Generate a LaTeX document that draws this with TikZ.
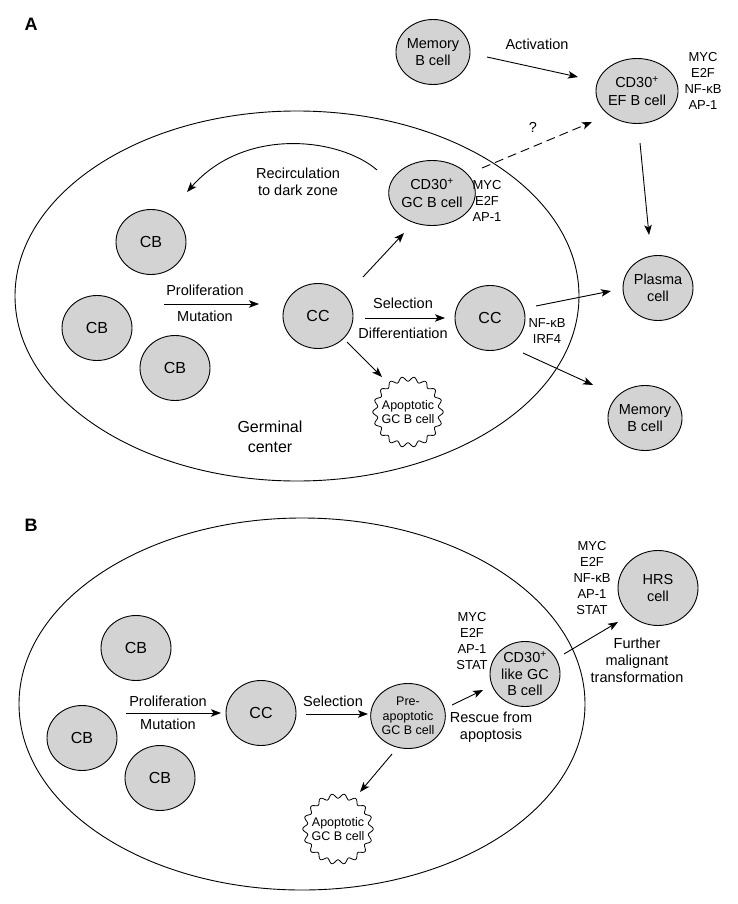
\documentclass[tikz,border=0pt]{standalone}
\usepackage{fontspec}
\setmainfont{Liberation Sans}
\usetikzlibrary{shapes.geometric,arrows.meta,calc}
\definecolor{cellgray}{RGB}{211,211,211}
\begin{document}
\begin{tikzpicture}[x=1pt,y=-1pt,
 cell/.style={ellipse, draw, line width=0.9pt, fill=cellgray, minimum width=70pt, minimum height=65pt, inner sep=0pt, align=center, font=\fontsize{14.5}{17.5}\selectfont},
 bigcell/.style={cell, font=\fontsize{16}{19}\selectfont},
 hrscell/.style={cell, minimum width=80pt, minimum height=75pt},
 txt/.style={align=center, inner sep=0pt, font=\fontsize{14.5}{17}\selectfont},
 gtxt/.style={align=center, inner sep=0pt, font=\fontsize{16}{20}\selectfont},
 genes/.style={align=center, inner sep=0pt, font=\fontsize{13}{16}\selectfont},
 apo/.style={circle, minimum size=68pt, inner sep=0pt, align=center, font=\fontsize{12.5}{14.5}\selectfont},
 smallcell/.style={cell, font=\fontsize{12.5}{14.5}\selectfont},
 wavy/.style={line width=0.8pt, fill=white},
 arr/.style={line width=0.9pt, -{Stealth[length=10pt,width=7.5pt,inset=2.5pt]}},
 dasharr/.style={arr, dash pattern=on 9pt off 5pt},
 zone/.style={ellipse, draw, line width=0.9pt, inner sep=0pt},
 panel/.style={font=\fontsize{18}{20}\selectfont\bfseries, inner sep=0pt}]
\useasboundingbox (0,0) rectangle (738,904);

% ---------------- Panel A ----------------
\node[panel] (labA) at (31,24) {A};
\node[zone, minimum width=564pt, minimum height=370pt] (gczA) at (297,296) {};

\node[cell] (memT) at (433,52) {Memory\\B cell};
\node[txt] (act) at (537,44) {Activation};
\node[cell] (ef) at (637,91) {CD30\textsuperscript{+}\\EF B cell};
\node[genes] (efg) at (703,81) {MYC\\E2F\\NF-κB\\AP-1};
\node[txt] (q) at (533,127) {?};
\node[cell] (gc) at (432,193) {CD30\textsuperscript{+}\\GC B cell};
\node[genes] (gcg) at (487,201) {MYC\\E2F\\AP-1};
\node[txt] (recirc) at (298,182) {Recirculation\\to dark zone};

\node[bigcell] (cb1) at (151,242) {CB};
\node[bigcell] (cb2) at (97,328) {CB};
\node[bigcell] (cb3) at (175,368) {CB};
\node[txt] (prolA) at (205,290) {Proliferation};
\node[txt] (mutA) at (205,316) {Mutation};
\node[bigcell] (ccm) at (318,316) {CC};
\node[txt] (selA) at (403,303) {Selection};
\node[txt] (diffA) at (403,333) {Differentiation};
\node[bigcell] (ccr) at (490,318) {CC};
\node[genes] (ccrg) at (547,331) {NF-κB\\IRF4};
\node[cell] (plasma) at (658,288) {Plasma\\cell};
\node[cell] (memB) at (645,418) {Memory\\B cell};
\node[apo] (apoA) at (408,412) {};
\draw[wavy, shift={(apoA.center)}] plot[domain=0:359, samples=360] (\x:{33+2.2*cos(18*\x)}) -- cycle;
\node[apo] at (apoA.center) {Apoptotic\\GC B cell};
\node[gtxt] (germ) at (270,437) {Germinal\\center};

\draw[arr] ($(memT)+(54,5)$) -- ($(ef)+(-59,-14)$);
\draw[dasharr] ($(gc)+(50,-25)$) -- ($(ef)+(-45,31)$);
\draw[arr] ($(ef)+(3,52)$) -- ($(plasma)+(-9,-53)$);
\draw[arr] ($(cb2)+(67,-24)$) -- ($(ccm)+(-59,-12)$);
\draw[arr] ($(ccm)+(47,2)$) -- ($(ccr)+(-45,0)$);
\draw[arr] ($(ccm)+(45,-39)$) -- ($(gc)+(-28,40)$);
\draw[arr] ($(ccm)+(29,26)$) -- ($(apoA)+(-26,-35)$);
\draw[arr] ($(ccr)+(46,-12)$) -- ($(plasma)+(-47,3)$);
\draw[arr] ($(ccr)+(33,35)$) -- ($(memB)+(-52,-33)$);
\draw[arr] ($(gc)+(-55,-23)$) .. controls (340,138) and (245,126) .. ($(cb1)+(36,-50)$);

% ---------------- Panel B ----------------
\node[panel] (labB) at (31,525) {B};
\node[zone, minimum width=566pt, minimum height=372pt] (gczB) at (302,704) {};

\node[bigcell] (cb4) at (136,648) {CB};
\node[bigcell] (cb5) at (82,738) {CB};
\node[bigcell] (cb6) at (160,778) {CB};
\node[txt] (prolB) at (168,701) {Proliferation};
\node[txt] (mutB) at (168,724) {Mutation};
\node[bigcell] (ccB) at (261,713) {CC};
\node[txt] (selB) at (333,701) {Selection};
\node[smallcell] (pre) at (408,716) {Pre-\\apoptotic\\GC B cell};
\node[apo] (apoB) at (338,829) {};
\draw[wavy, shift={(apoB.center)}] plot[domain=0:359, samples=360] (\x:{33+2.2*cos(18*\x)}) -- cycle;
\node[apo] at (apoB.center) {Apoptotic\\GC B cell};
\node[cell, font=\fontsize{14.5}{16.5}\selectfont] (cdl) at (525,674) {CD30\textsuperscript{+}\\like GC\\B cell};
\node[genes] (cdlg) at (472,641) {MYC\\E2F\\AP-1\\STAT};
\node[txt] (rescue) at (491,727) {Rescue from\\apoptosis};
\node[hrscell] (hrs) at (658,588) {HRS\\cell};
\node[genes] (hrsg) at (592,578) {MYC\\E2F\\NF-κB\\AP-1\\STAT};
\node[txt] (further) at (637,660) {Further\\malignant\\transformation};

\draw[arr] ($(cb5)+(44,-25)$) -- ($(ccB)+(-40,0)$);
\draw[arr] ($(ccB)+(45,1)$) -- ($(pre)+(-40,-2)$);
\draw[arr] ($(pre)+(44,-11)$) -- ($(cdl)+(-42,16)$);
\draw[arr] ($(pre)+(-16,38)$) -- ($(apoB)+(22,-37)$);
\draw[arr] ($(cdl)+(39,-20)$) -- ($(hrs)+(-40,34)$);
\end{tikzpicture}
\end{document}
